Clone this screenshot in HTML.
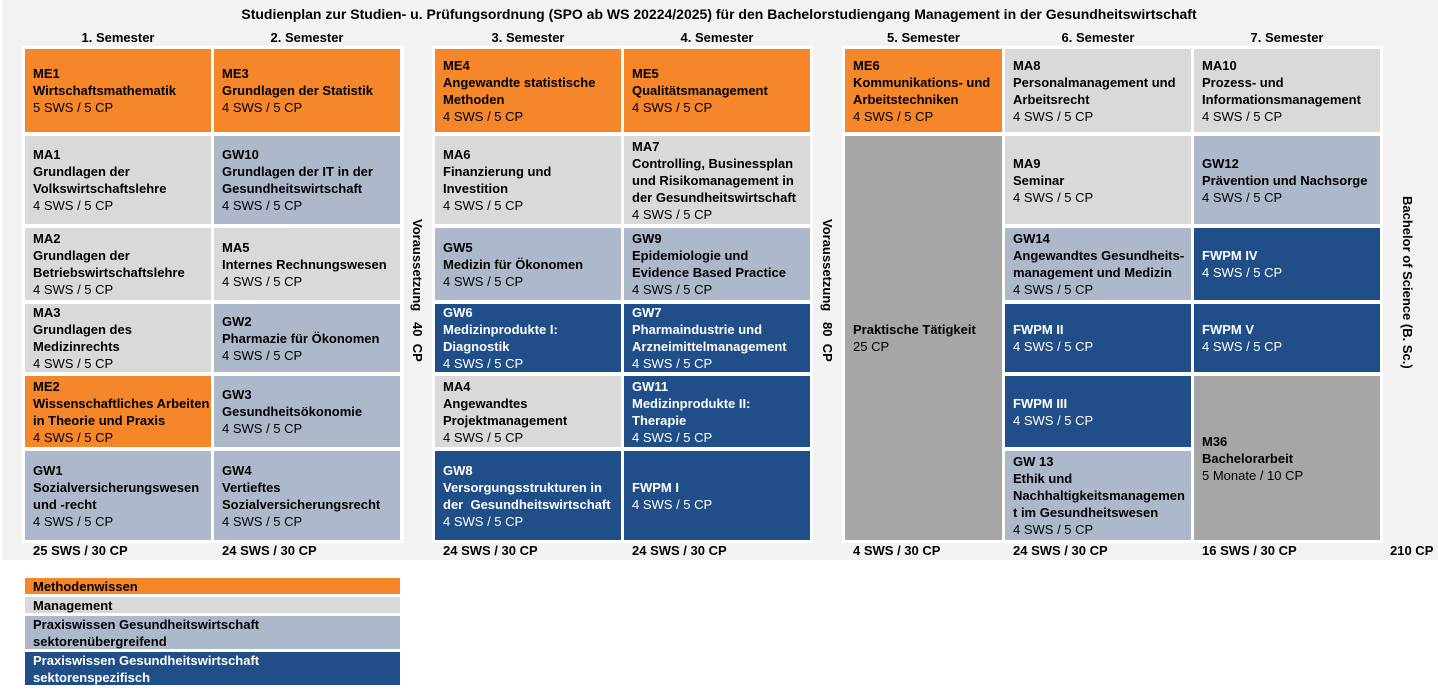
<!DOCTYPE html>
<html><head><meta charset="utf-8"><style>
*{margin:0;padding:0;box-sizing:border-box}
body{width:1438px;height:692px;background:#fff;font-family:"Liberation Sans",Arial,sans-serif;position:relative;overflow:hidden;color:#000}
.bg{position:absolute;left:2px;top:0;width:1436px;height:560px;background:#f2f2f2}
.grp{position:absolute;background:#fff}
.b{position:absolute;display:flex;flex-direction:column;justify-content:center;padding-left:8px;font-size:13px;line-height:17px;white-space:nowrap}
.b b{font-weight:bold}
.o{background:#f5862a}.g{background:#d9d9d9}.l{background:#adb9ca}.d{background:#1f4e89;color:#fff}.x{background:#a6a6a6}
.t{position:absolute;font-weight:bold;font-size:13px;white-space:nowrap}
.h{position:absolute;font-weight:bold;font-size:13px;text-align:center;top:30px}
.v{position:absolute;writing-mode:vertical-rl;font-weight:bold;font-size:13px;white-space:pre}
.lg{position:absolute;left:25px;width:375px;padding-left:8px;font-weight:bold;font-size:13px;line-height:17px;display:flex;flex-direction:column;justify-content:center}
</style></head><body>
<div class="bg"></div>
<div class="t" style="left:0;width:1438px;text-align:center;top:6px;font-size:14px">Studienplan zur Studien- u. Prüfungsordnung (SPO ab WS 20224/2025) für den Bachelorstudiengang Management in der Gesundheitswirtschaft</div>
<div class="h" style="left:25px;width:186px">1. Semester</div>
<div class="h" style="left:214px;width:186px">2. Semester</div>
<div class="h" style="left:435px;width:186px">3. Semester</div>
<div class="h" style="left:624px;width:186px">4. Semester</div>
<div class="h" style="left:845px;width:157px">5. Semester</div>
<div class="h" style="left:1005px;width:186px">6. Semester</div>
<div class="h" style="left:1194px;width:186px">7. Semester</div>

<div class="grp" style="left:22px;top:46px;width:382px;height:497px"></div>
<div class="grp" style="left:432px;top:46px;width:381px;height:497px"></div>
<div class="grp" style="left:842px;top:46px;width:541px;height:497px"></div>

<!-- col1 -->
<div class="b o" style="left:25px;top:49px;width:186px;height:83px"><b>ME1</b><b>Wirtschaftsmathematik</b><span>5 SWS / 5 CP</span></div>
<div class="b g" style="left:25px;top:136px;width:186px;height:88px"><b>MA1</b><b>Grundlagen der</b><b>Volkswirtschaftslehre</b><span>4 SWS / 5 CP</span></div>
<div class="b g" style="left:25px;top:228px;width:186px;height:72px"><b>MA2</b><b>Grundlagen der</b><b>Betriebswirtschaftslehre</b><span>4 SWS / 5 CP</span></div>
<div class="b g" style="left:25px;top:304px;width:186px;height:68px"><b>MA3</b><b>Grundlagen des</b><b>Medizinrechts</b><span>4 SWS / 5 CP</span></div>
<div class="b o" style="left:25px;top:376px;width:186px;height:71px"><b>ME2</b><b>Wissenschaftliches Arbeiten</b><b>in Theorie und Praxis</b><span>4 SWS / 5 CP</span></div>
<div class="b l" style="left:25px;top:451px;width:186px;height:89px"><b>GW1</b><b>Sozialversicherungswesen</b><b>und -recht</b><span>4 SWS / 5 CP</span></div>
<!-- col2 -->
<div class="b o" style="left:214px;top:49px;width:186px;height:83px"><b>ME3</b><b>Grundlagen der Statistik</b><span>4 SWS / 5 CP</span></div>
<div class="b l" style="left:214px;top:136px;width:186px;height:88px"><b>GW10</b><b>Grundlagen der IT in der</b><b>Gesundheitswirtschaft</b><span>4 SWS / 5 CP</span></div>
<div class="b g" style="left:214px;top:228px;width:186px;height:72px"><b>MA5</b><b>Internes Rechnungswesen</b><span>4 SWS / 5 CP</span></div>
<div class="b l" style="left:214px;top:304px;width:186px;height:68px"><b>GW2</b><b>Pharmazie für Ökonomen</b><span>4 SWS / 5 CP</span></div>
<div class="b l" style="left:214px;top:376px;width:186px;height:71px"><b>GW3</b><b>Gesundheitsökonomie</b><span>4 SWS / 5 CP</span></div>
<div class="b l" style="left:214px;top:451px;width:186px;height:89px"><b>GW4</b><b>Vertieftes</b><b>Sozialversicherungsrecht</b><span>4 SWS / 5 CP</span></div>
<!-- col3 -->
<div class="b o" style="left:435px;top:49px;width:186px;height:83px"><b>ME4</b><b>Angewandte statistische</b><b>Methoden</b><span>4 SWS / 5 CP</span></div>
<div class="b g" style="left:435px;top:136px;width:186px;height:88px"><b>MA6</b><b>Finanzierung und</b><b>Investition</b><span>4 SWS / 5 CP</span></div>
<div class="b l" style="left:435px;top:228px;width:186px;height:72px"><b>GW5</b><b>Medizin für Ökonomen</b><span>4 SWS / 5 CP</span></div>
<div class="b d" style="left:435px;top:304px;width:186px;height:68px"><b>GW6</b><b>Medizinprodukte I:</b><b>Diagnostik</b><span>4 SWS / 5 CP</span></div>
<div class="b g" style="left:435px;top:376px;width:186px;height:71px"><b>MA4</b><b>Angewandtes</b><b>Projektmanagement</b><span>4 SWS / 5 CP</span></div>
<div class="b d" style="left:435px;top:451px;width:186px;height:89px"><b>GW8</b><b>Versorgungsstrukturen in</b><b>der&nbsp; Gesundheitswirtschaft</b><span>4 SWS / 5 CP</span></div>
<!-- col4 -->
<div class="b o" style="left:624px;top:49px;width:186px;height:83px"><b>ME5</b><b>Qualitätsmanagement</b><span>4 SWS / 5 CP</span></div>
<div class="b g" style="left:624px;top:136px;width:186px;height:88px"><b>MA7</b><b>Controlling, Businessplan</b><b>und Risikomanagement in</b><b>der Gesundheitswirtschaft</b><span>4 SWS / 5 CP</span></div>
<div class="b l" style="left:624px;top:228px;width:186px;height:72px"><b>GW9</b><b>Epidemiologie und</b><b>Evidence Based Practice</b><span>4 SWS / 5 CP</span></div>
<div class="b d" style="left:624px;top:304px;width:186px;height:68px"><b>GW7</b><b>Pharmaindustrie und</b><b>Arzneimittelmanagement</b><span>4 SWS / 5 CP</span></div>
<div class="b d" style="left:624px;top:376px;width:186px;height:71px"><b>GW11</b><b>Medizinprodukte II:</b><b>Therapie</b><span>4 SWS / 5 CP</span></div>
<div class="b d" style="left:624px;top:451px;width:186px;height:89px"><b>FWPM I</b><span>4 SWS / 5 CP</span></div>
<!-- col5 -->
<div class="b o" style="left:845px;top:49px;width:157px;height:83px"><b>ME6</b><b>Kommunikations- und</b><b>Arbeitstechniken</b><span>4 SWS / 5 CP</span></div>
<div class="b x" style="left:845px;top:136px;width:157px;height:404px"><b>Praktische Tätigkeit</b><span>25 CP</span></div>
<!-- col6 -->
<div class="b g" style="left:1005px;top:49px;width:186px;height:83px"><b>MA8</b><b>Personalmanagement und</b><b>Arbeitsrecht</b><span>4 SWS / 5 CP</span></div>
<div class="b g" style="left:1005px;top:136px;width:186px;height:88px"><b>MA9</b><b>Seminar</b><span>4 SWS / 5 CP</span></div>
<div class="b l" style="left:1005px;top:228px;width:186px;height:72px"><b>GW14</b><b>Angewandtes Gesundheits-</b><b>management und Medizin</b><span>4 SWS / 5 CP</span></div>
<div class="b d" style="left:1005px;top:304px;width:186px;height:68px"><b>FWPM II</b><span>4 SWS / 5 CP</span></div>
<div class="b d" style="left:1005px;top:376px;width:186px;height:71px"><b>FWPM III</b><span>4 SWS / 5 CP</span></div>
<div class="b l" style="left:1005px;top:451px;width:186px;height:89px;overflow:hidden"><b>GW 13</b><b>Ethik und</b><b>Nachhaltigkeitsmanagemen</b><b>t im Gesundheitswesen</b><span>4 SWS / 5 CP</span></div>
<!-- col7 -->
<div class="b g" style="left:1194px;top:49px;width:186px;height:83px"><b>MA10</b><b>Prozess- und</b><b>Informationsmanagement</b><span>4 SWS / 5 CP</span></div>
<div class="b l" style="left:1194px;top:136px;width:186px;height:88px"><b>GW12</b><b>Prävention und Nachsorge</b><span>4 SWS / 5 CP</span></div>
<div class="b d" style="left:1194px;top:228px;width:186px;height:72px"><b>FWPM IV</b><span>4 SWS / 5 CP</span></div>
<div class="b d" style="left:1194px;top:304px;width:186px;height:68px"><b>FWPM V</b><span>4 SWS / 5 CP</span></div>
<div class="b x" style="left:1194px;top:376px;width:186px;height:164px"><b>M36</b><b>Bachelorarbeit</b><span>5 Monate / 10 CP</span></div>

<div class="v" style="left:410px;top:219px">Voraussetzung   40  CP</div>
<div class="v" style="left:820px;top:219px">Voraussetzung   80  CP</div>
<div class="v" style="left:1400px;top:196px">Bachelor of Science (B. Sc.)</div>

<div class="t" style="left:33px;top:543px">25 SWS / 30 CP</div>
<div class="t" style="left:222px;top:543px">24 SWS / 30 CP</div>
<div class="t" style="left:443px;top:543px">24 SWS / 30 CP</div>
<div class="t" style="left:632px;top:543px">24 SWS / 30 CP</div>
<div class="t" style="left:853px;top:543px">4 SWS / 30 CP</div>
<div class="t" style="left:1013px;top:543px">24 SWS / 30 CP</div>
<div class="t" style="left:1202px;top:543px">16 SWS / 30 CP</div>
<div class="t" style="left:1390px;top:543px">210 CP</div>

<div class="lg o" style="top:578px;height:16px">Methodenwissen</div>
<div class="lg g" style="top:597px;height:16px">Management</div>
<div class="lg l" style="top:616px;height:33px">Praxiswissen Gesundheitswirtschaft<br>sektorenübergreifend</div>
<div class="lg d" style="top:652px;height:33px">Praxiswissen Gesundheitswirtschaft<br>sektorenspezifisch</div>
</body></html>
